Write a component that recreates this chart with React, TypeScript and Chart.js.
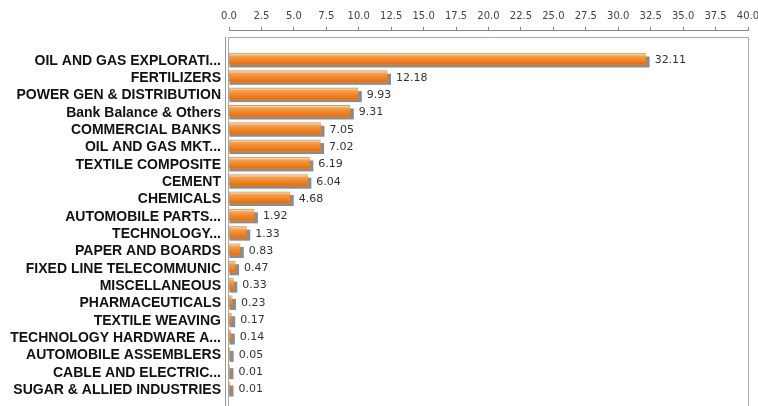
import React, { useEffect, useRef } from "react";
import { Chart, registerables } from "chart.js";

Chart.register(...registerables);

const categories: string[] = [
  "OIL AND GAS EXPLORATI...",
  "FERTILIZERS",
  "POWER GEN & DISTRIBUTION",
  "Bank Balance & Others",
  "COMMERCIAL BANKS",
  "OIL AND GAS MKT...",
  "TEXTILE COMPOSITE",
  "CEMENT",
  "CHEMICALS",
  "AUTOMOBILE PARTS...",
  "TECHNOLOGY...",
  "PAPER AND BOARDS",
  "FIXED LINE TELECOMMUNIC",
  "MISCELLANEOUS",
  "PHARMACEUTICALS",
  "TEXTILE WEAVING",
  "TECHNOLOGY HARDWARE A...",
  "AUTOMOBILE ASSEMBLERS",
  "CABLE AND ELECTRIC...",
  "SUGAR & ALLIED INDUSTRIES",
];

const values: number[] = [
  32.11, 12.18, 9.93, 9.31, 7.05, 7.02, 6.19, 6.04, 4.68, 1.92, 1.33, 0.83,
  0.47, 0.33, 0.23, 0.17, 0.14, 0.05, 0.01, 0.01,
];

const xTickValues: number[] = [
  0, 2.5, 5, 7.5, 10, 12.5, 15, 17.5, 20, 22.5, 25, 27.5, 30, 32.5, 35, 37.5, 40,
];

const barLook = {
  id: "barLook",
  beforeDatasetsDraw(chart: any) {
    const ctx = chart.ctx;
    const meta = chart.getDatasetMeta(0);
    ctx.save();
    ctx.fillStyle = "#8c8c8c";
    meta.data.forEach((el: any) => {
      const p = el.getProps(["x", "y", "base", "height"], true);
      const l = Math.min(p.x, p.base);
      const r = Math.max(p.x, p.base);
      const t = p.y - p.height / 2;
      ctx.fillRect(l, t + 3, r - l + 4, p.height);
    });
    ctx.restore();
  },
  afterDatasetsDraw(chart: any) {
    const ctx = chart.ctx;
    const meta = chart.getDatasetMeta(0);
    ctx.save();
    meta.data.forEach((el: any, i: number) => {
      const p = el.getProps(["x", "y", "base", "height"], true);
      const l = Math.min(p.x, p.base);
      const r = Math.max(p.x, p.base);
      const t = p.y - p.height / 2;
      const h = p.height;
      if (r - l > 0.2) {
        const g = ctx.createLinearGradient(0, t, 0, t + h);
        g.addColorStop(0, "#f4a460");
        g.addColorStop(0.1, "#fbd2a8");
        g.addColorStop(0.22, "#f7a252");
        g.addColorStop(0.55, "#f28a2c");
        g.addColorStop(1, "#df6e16");
        ctx.fillStyle = g;
        ctx.fillRect(l, t, r - l, h);
      }
      ctx.fillStyle = "#333333";
      ctx.font = '11px "DejaVu Sans"';
      ctx.textAlign = "left";
      ctx.textBaseline = "middle";
      ctx.fillText(values[i].toFixed(2), r + 9, p.y + 1.5);
    });
    ctx.restore();
  },
  afterDraw(chart: any) {
    const ctx = chart.ctx;
    const a = chart.chartArea;
    ctx.save();
    ctx.strokeStyle = "#a8a8a8";
    ctx.lineWidth = 1;
    ctx.beginPath();
    ctx.moveTo(a.left - 0.5, 412);
    ctx.lineTo(a.left - 0.5, 37.5);
    ctx.lineTo(a.right + 0.5, 37.5);
    ctx.lineTo(a.right + 0.5, 412);
    ctx.stroke();
    ctx.strokeStyle = "#999999";
    ctx.beginPath();
    ctx.moveTo(a.left - 3.5, 37);
    ctx.lineTo(a.left - 3.5, 412);
    ctx.stroke();
    ctx.restore();
  },
};

export default function App() {
  const ref = useRef<HTMLCanvasElement | null>(null);
  useEffect(() => {
    if (!ref.current) return;
    const chart = new Chart(ref.current, {
      type: "bar",
      data: {
        datasets: [
          {
            data: values.map((v, i) => ({ x: v, y: i })),
            backgroundColor: "#f28a2c",
            borderWidth: 0,
            barThickness: 11,
          },
        ],
      },
      options: {
        indexAxis: "y",
        responsive: false,
        animation: false,
        layout: { padding: { left: 0, right: 10, top: 0, bottom: 0 } },
        plugins: {
          legend: { display: false },
          tooltip: { enabled: false },
        },
        scales: {
          x: {
            type: "linear",
            position: "top",
            min: 0,
            max: 40,
            afterBuildTicks: (s: any) => {
              s.ticks = xTickValues.map((v) => ({ value: v }));
            },
            afterFit: (s: any) => {
              s.height = 30;
              s.paddingLeft = 0;
              s.paddingRight = 0;
            },
            grid: {
              display: true,
              drawOnChartArea: false,
              drawTicks: true,
              tickLength: 3,
              color: "#888888",
            },
            border: { display: true, color: "#888888" },
            ticks: {
              autoSkip: false,
              maxRotation: 0,
              padding: 5,
              color: "#444444",
              font: { family: "DejaVu Sans", size: 10 },
              callback: (v: any) => Number(v).toFixed(1),
            },
          },
          y: {
            type: "linear",
            reverse: true,
            offset: false,
            min: -1.675,
            max: 20.039,
            afterBuildTicks: (s: any) => {
              s.ticks = categories.map((_, i) => ({ value: i }));
            },
            afterFit: (s: any) => {
              s.width = 229;
              s.paddingTop = 0;
              s.paddingBottom = 0;
            },
            grid: { display: false, drawTicks: false, offset: false },
            border: { display: false },
            ticks: {
              autoSkip: false,
              padding: 8,
              labelOffset: 2,
              color: "#111111",
              font: { family: "Liberation Sans", size: 14, weight: "bold" },
              callback: (v: any) => categories[Math.round(Number(v))],
            },
          },
        },
      },
      plugins: [barLook],
    } as any);
    return () => chart.destroy();
  }, []);
  return (
    <div
      style={{
        position: "fixed",
        left: 0,
        top: 0,
        width: 758,
        height: 406,
        overflow: "hidden",
        background: "#ffffff",
      }}
    >
      <canvas ref={ref} width={758} height={406} style={{ display: "block" }} />
    </div>
  );
}
